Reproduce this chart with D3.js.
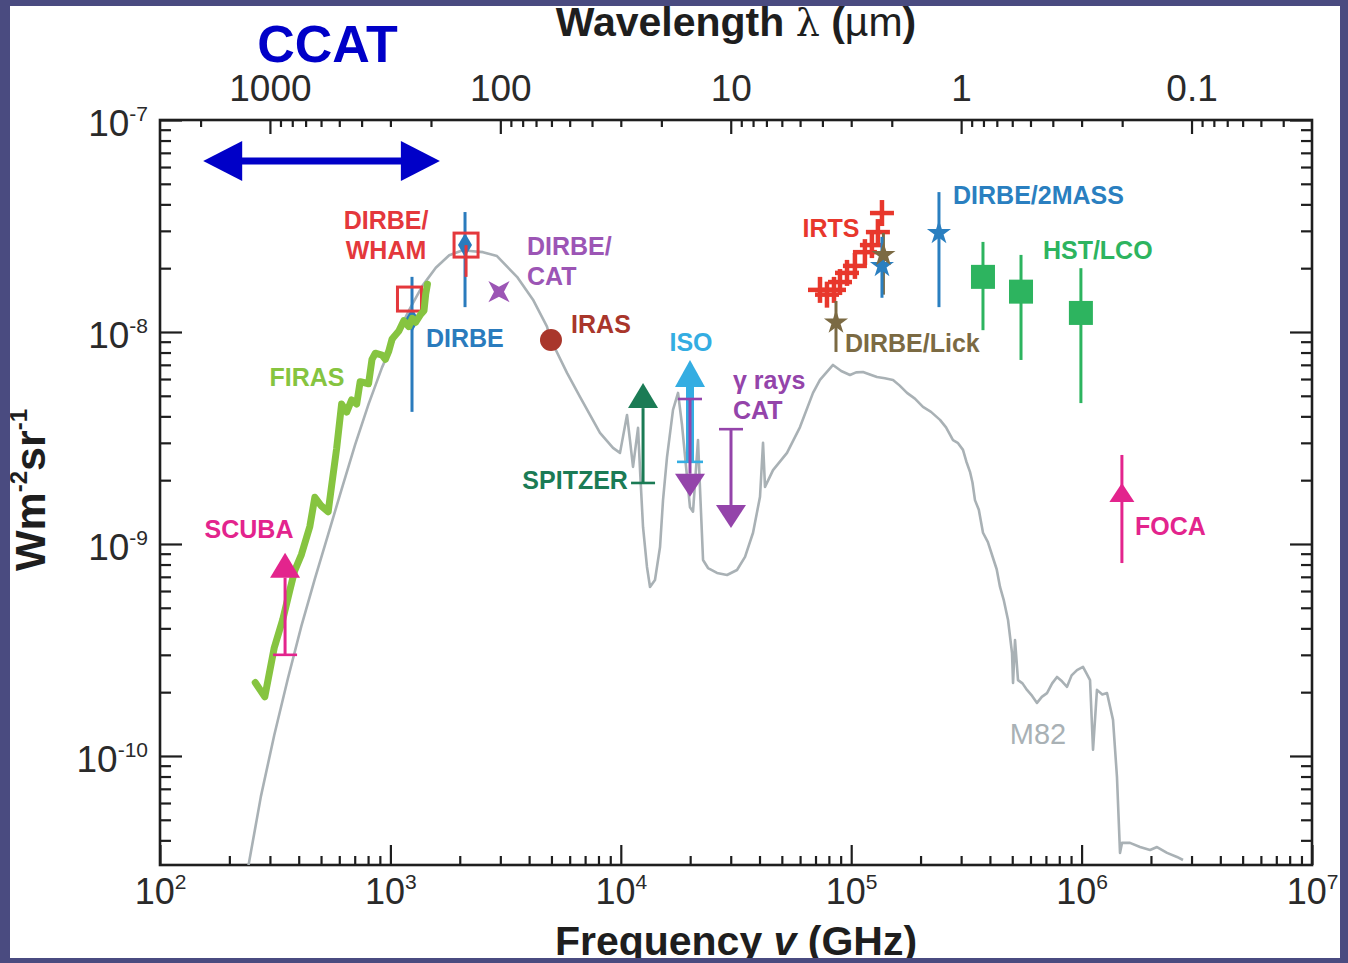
<!DOCTYPE html>
<html>
<head>
<meta charset="utf-8">
<script src="https://cdn.jsdelivr.net/npm/d3@7"></script>
<style>
  html, body { margin: 0; padding: 0; background: #4a4b80; }
  svg { display: block; }
  text { font-family: "Liberation Sans", Arial, Helvetica, sans-serif; }
</style>
</head>
<body>
<svg id="chart" width="1348" height="963"></svg>
<script>
// ---------- axis ranges and ticks ----------
const freqDomain = [1e2, 1e7];              // GHz
const intensityDomain = [3.06e-11, 1e-7];   // W m^-2 sr^-1
const C_UM_GHZ = 3e5;                       // lambda[um] = C / nu[GHz]
const freqMajorTicks = [1e2, 1e3, 1e4, 1e5, 1e6, 1e7];
const intensityMajorTicks = [1e-7, 1e-8, 1e-9, 1e-10];
const wavelengthMajorTicks = [1000, 100, 10, 1, 0.1];
const wavelengthTickLabels = ["1000", "100", "10", "1", "0.1"];

// ---------- M82 spectrum (nu GHz, intensity) ----------
const m82 = [
  [224,1.9e-11],[241,2.96e-11],[274,6.43e-11],[313,1.25e-10],[359,2.32e-10],[411,4.11e-10],
  [470,6.84e-10],[537,1.11e-9],[614,1.81e-9],[703,2.94e-9],[804,4.57e-9],[920,6.81e-9],
  [1052,9.48e-9],[1202,1.26e-8],[1377,1.65e-8],[1574,2.01e-8],[1800,2.30e-8],[2059,2.43e-8],
  [2216,2.41e-8],[2523,2.38e-8],[2902,2.28e-8],[3544,1.82e-8],[4158,1.42e-8],[4783,1.06e-8],
  [4928,9.37e-9],[5841,6.41e-9],[6652,4.94e-9],[8122,3.34e-9],[9250,2.84e-9],[9920,2.69e-9],
  [10640,4.06e-9],[10960,3.09e-9],[11300,2.31e-9],[11880,3.53e-9],[12120,2.23e-9],[12490,1.20e-9],
  [12990,7.79e-10],[13390,6.27e-10],[14070,6.76e-10],[14800,9.68e-10],[15250,1.61e-9],[15870,2.57e-9],
  [16850,4.29e-9],[17720,5.16e-9],[18440,3.64e-9],[19390,2.07e-9],[19970,1.49e-9],[20580,1.42e-9],
  [21630,3.09e-9],[22080,1.80e-9],[22750,8.40e-10],[23910,7.70e-10],[26160,7.30e-10],[28910,7.14e-10],
  [31940,7.54e-10],[34610,8.69e-10],[37490,1.13e-9],[40200,1.67e-9],[41430,3.00e-9],[42260,1.86e-9],
  [45780,2.23e-9],[52650,2.69e-9],[59950,3.56e-9],[68270,5.16e-9],[73200,5.94e-9],[83370,6.99e-9],
  [90500,6.55e-9],[98800,6.27e-9],[105000,6.45e-9],[112500,6.48e-9],[120500,6.30e-9],[129400,6.13e-9],
  [140000,6.05e-9],[151900,5.94e-9],[162000,5.60e-9],[174700,5.16e-9],[189000,4.85e-9],[204900,4.43e-9],
  [222000,4.20e-9],[242900,3.85e-9],[258000,3.55e-9],[276600,3.09e-9],[290000,3.00e-9],[305600,2.78e-9],
  [316000,2.45e-9],[327800,2.19e-9],[336000,1.95e-9],[344500,1.61e-9],[358000,1.45e-9],[373300,1.13e-9],
  [392000,1.02e-9],[412600,8.59e-10],[428000,7.60e-10],[442500,6.27e-10],[460000,5.40e-10],[479400,4.38e-10],
  [498900,3.06e-10],[504000,2.21e-10],[514100,3.52e-10],[529700,2.28e-10],[554000,2.20e-10],[579400,2.05e-10],
  [610000,1.92e-10],[640300,1.78e-10],[672000,1.90e-10],[707700,1.98e-10],[745000,2.20e-10],[782100,2.36e-10],
  [822000,2.25e-10],[864400,2.12e-10],[905000,2.40e-10],[955000,2.54e-10],[1014000,2.63e-10],[1050000,2.45e-10],
  [1088000,2.28e-10],[1121000,1.07e-10],[1166000,2.05e-10],[1230000,1.95e-10],[1289000,1.98e-10],
  [1369000,1.48e-10],[1424000,7.96e-11],[1468000,3.49e-11],[1497000,3.89e-11],[1622000,3.89e-11],[1793000,3.72e-11],
  [1982000,3.60e-11],[2125000,3.72e-11],[2349000,3.49e-11],[2595000,3.34e-11],[2755000,3.23e-11]
];

// ---------- FIRAS spectrum ----------
const firas = [
  [259,2.22e-10],[285,1.90e-10],[313,3.23e-10],[341,4.40e-10],[365,5.98e-10],[384,7.46e-10],
  [411,8.91e-10],[447,1.21e-9],[470,1.66e-9],[502,1.51e-9],[537,1.42e-9],[556,1.89e-9],
  [584,2.81e-9],[614,4.57e-9],[646,4.19e-9],[679,4.78e-9],[714,4.57e-9],[739,5.83e-9],
  [804,5.70e-9],[832,7.43e-9],[860,7.94e-9],[920,7.78e-9],[951,7.43e-9],[984,8.12e-9],
  [1017,9.27e-9],[1088,1.01e-8],[1143,1.13e-8],[1202,1.06e-8],[1244,1.16e-8],[1286,1.11e-8],
  [1353,1.21e-8],[1399,1.26e-8],[1423,1.51e-8],[1448,1.68e-8]
];

// ---------- point measurements ----------
const dirbeWham = [
  { nu: 1210, I: 1.43e-8 },
  { nu: 2130, I: 2.57e-8, lo: 1.82e-8, hi: 2.57e-8 }
];
const dirbe = [
  { nu: 1241, I: 1.14e-8, lo: 4.2e-9, hi: 1.82e-8 },
  { nu: 2108, I: 2.57e-8, lo: 1.31e-8, hi: 3.68e-8 }
];
const dirbeCat = [{ nu: 2960, I: 1.55e-8 }];
const iras = [{ nu: 4977, I: 9.17e-9 }];
const irts = [
  [73200,1.58e-8],[78500,1.50e-8],[84200,1.58e-8],[89400,1.72e-8],[95900,1.90e-8],
  [103800,2.05e-8],[114700,2.38e-8],[123000,2.57e-8],[130600,2.96e-8],[136000,3.64e-8]
];
const dirbeLick = [
  { nu: 85900, I: 1.11e-8, lo: 8.05e-9, hi: 1.40e-8 },
  { nu: 138000, I: 2.31e-8, lo: 1.50e-8, hi: 2.93e-8 }
];
const dirbe2mass = [
  { nu: 136000, I: 2.05e-8, lo: 1.45e-8, hi: 2.81e-8 },
  { nu: 240400, I: 2.93e-8, lo: 1.31e-8, hi: 4.57e-8 }
];
const hstLco = [
  { nu: 373200, I: 1.82e-8, lo: 1.02e-8, hi: 2.66e-8 },
  { nu: 545800, I: 1.55e-8, lo: 7.38e-9, hi: 2.31e-8 },
  { nu: 993000, I: 1.23e-8, lo: 4.62e-9, hi: 2.00e-8 }
];
// limits: bar = capped end, tip = arrow head
const lowerLimits = [
  { key: "scuba",   nu: 349,   bar: 3.0e-10, tip: 9.1e-10 },
  { key: "spitzer", nu: 12490, bar: 1.94e-9, tip: 5.74e-9 },
  { key: "iso",     nu: 19970, bar: 2.44e-9, tip: 7.38e-9 }
];
const gammaUpperLimits = [
  { nu: 19970, bar: 4.83e-9, tip: 1.67e-9 },
  { nu: 30080, bar: 3.48e-9, tip: 1.19e-9 }
];
const foca = [{ nu: 1.496e6, tip: 1.94e-9, lo: 8.13e-10, hi: 2.63e-9 }];
const ccatBand = [154, 1640];     // GHz
const ccatLevel = 6.4e-8;

// ---------- annotations (anchored in data space) ----------
const labels = [
  { key: "wham",    lines: ["DIRBE/", "WHAM"], nu: 957,    I: 3.06e-8, anchor: "middle" },
  { key: "dirbe",   lines: ["DIRBE"],          nu: 1427,   I: 8.50e-9, anchor: "start" },
  { key: "cat",     lines: ["DIRBE/", "CAT"],  nu: 3917,   I: 2.31e-8, anchor: "start" },
  { key: "iras",    lines: ["IRAS"],           nu: 6085,   I: 9.88e-9, anchor: "start" },
  { key: "iso",     lines: ["ISO"],            nu: 20180,  I: 8.13e-9, anchor: "middle" },
  { key: "gamma",   lines: ["γ rays", "CAT"],  nu: 30690,  I: 5.38e-9, anchor: "start" },
  { key: "spitzer", lines: ["SPITZER"],        nu: 10740,  I: 1.82e-9, anchor: "end" },
  { key: "firas",   lines: ["FIRAS"],          nu: 434.6,  I: 5.56e-9, anchor: "middle" },
  { key: "scuba",   lines: ["SCUBA"],          nu: 243.4,  I: 1.07e-9, anchor: "middle" },
  { key: "irts",    lines: ["IRTS"],           nu: 81700,  I: 2.81e-8, anchor: "middle" },
  { key: "lick",    lines: ["DIRBE/Lick"],     nu: 93950,  I: 8.05e-9, anchor: "start" },
  { key: "mass",    lines: ["DIRBE/2MASS"],    nu: 276700, I: 4.02e-8, anchor: "start" },
  { key: "hst",     lines: ["HST/LCO"],        nu: 679400, I: 2.21e-8, anchor: "start" },
  { key: "foca",    lines: ["FOCA"],           nu: 1.706e6, I: 1.10e-9, anchor: "start" },
  { key: "m82",     lines: ["M82"],            nu: 647000, I: 1.14e-10, anchor: "middle" }
];

const colors = {
  wham: "#e4383c", dirbe: "#2a7bbd", cat: "#9c55b5", iras: "#a9362b", iso: "#34ade2",
  gamma: "#9444aa", spitzer: "#1b7b55", firas: "#86c440", scuba: "#e3248d", irts: "#e8372c",
  lick: "#7b6a43", mass: "#2a7fc0", hst: "#2db45f", foca: "#e3248d", m82: "#a9b1b5",
  ccat: "#0000c8", ink: "#1e1e1e"
};

// ---------- layout ----------
const W = 1348, H = 963;
const panel = { x: 10, y: 6, w: 1330, h: 952 };
const plot = { l: 160, r: 1312, t: 120, b: 865 };

const svg = d3.select("#chart");
const defs = svg.append("defs");
defs.append("clipPath").attr("id", "panelClip").append("rect")
  .attr("x", panel.x).attr("y", panel.y).attr("width", panel.w).attr("height", panel.h);
defs.append("clipPath").attr("id", "plotClip").append("rect")
  .attr("x", plot.l).attr("y", plot.t).attr("width", plot.r - plot.l).attr("height", plot.b - plot.t);

svg.append("rect").attr("width", W).attr("height", H).attr("fill", "#4a4b80");
svg.append("rect").attr("x", panel.x).attr("y", panel.y).attr("width", panel.w).attr("height", panel.h).attr("fill", "#ffffff");
const root = svg.append("g").attr("clip-path", "url(#panelClip)");

const x = d3.scaleLog().domain(freqDomain).range([plot.l, plot.r]);
const y = d3.scaleLog().domain(intensityDomain).range([plot.b, plot.t]);
const lam = d3.scaleLog().domain([C_UM_GHZ / freqDomain[0], C_UM_GHZ / freqDomain[1]]).range([plot.l, plot.r]);

// minor tick generators
function minorLog(lo, hi) {
  const out = [];
  for (let e = Math.floor(Math.log10(lo)) - 1; e <= Math.ceil(Math.log10(hi)); e++) {
    for (let m = 2; m <= 9; m++) {
      const v = m * Math.pow(10, e);
      if (v > lo * 1.0001 && v < hi * 0.9999) out.push(v);
    }
  }
  return out;
}

function styleAxis(g) {
  g.select(".domain").remove();
  g.selectAll(".tick line").attr("stroke", colors.ink).attr("stroke-width", 2.2);
}

function powerLabel(d) {
  const t = d3.select(this);
  const e = Math.round(Math.log10(d));
  t.text(null);
  t.append("tspan").text("10");
  t.append("tspan").attr("dy", -15).attr("font-size", 21).text(String(e));
}

const axes = root.append("g");

// bottom: frequency
const gBottomMinor = axes.append("g").attr("transform", `translate(0,${plot.b})`)
  .call(d3.axisBottom(x).tickValues(minorLog(freqDomain[0], freqDomain[1])).tickSizeInner(-9).tickSizeOuter(0).tickFormat(""));
styleAxis(gBottomMinor);
const gBottom = axes.append("g").attr("transform", `translate(0,${plot.b})`)
  .call(d3.axisBottom(x).tickValues(freqMajorTicks).tickSizeInner(-20).tickSizeOuter(0).tickPadding(12));
styleAxis(gBottom);
gBottom.selectAll(".tick text").attr("font-size", 36).attr("fill", "#2a2a2a")
  .attr("font-family", "'Liberation Sans', Arial, sans-serif").each(powerLabel)
  .attr("dy", "0.74em");

// top: wavelength
const gTopMinor = axes.append("g").attr("transform", `translate(0,${plot.t})`)
  .call(d3.axisTop(lam).tickValues(minorLog(C_UM_GHZ / freqDomain[1], C_UM_GHZ / freqDomain[0])).tickSizeInner(-7).tickSizeOuter(0).tickFormat(""));
styleAxis(gTopMinor);
const gTop = axes.append("g").attr("transform", `translate(0,${plot.t})`)
  .call(d3.axisTop(lam).tickValues(wavelengthMajorTicks).tickSizeInner(-14).tickSizeOuter(0).tickPadding(19)
    .tickFormat((d, i) => wavelengthTickLabels[i]));
styleAxis(gTop);
gTop.selectAll(".tick text").attr("font-size", 37).attr("fill", "#2a2a2a")
  .attr("font-family", "'Liberation Sans', Arial, sans-serif");

// left: intensity
const gLeftMinor = axes.append("g").attr("transform", `translate(${plot.l},0)`)
  .call(d3.axisLeft(y).tickValues(minorLog(intensityDomain[0], intensityDomain[1])).tickSizeInner(-11).tickSizeOuter(0).tickFormat(""));
styleAxis(gLeftMinor);
const gLeft = axes.append("g").attr("transform", `translate(${plot.l},0)`)
  .call(d3.axisLeft(y).tickValues(intensityMajorTicks).tickSizeInner(-22).tickSizeOuter(0).tickPadding(12));
styleAxis(gLeft);
gLeft.selectAll(".tick text").attr("font-size", 37).attr("fill", "#2a2a2a")
  .attr("font-family", "'Liberation Sans', Arial, sans-serif").each(powerLabel)
  .attr("dy", "0.42em");

// right: intensity (ticks only)
const gRightMinor = axes.append("g").attr("transform", `translate(${plot.r},0)`)
  .call(d3.axisRight(y).tickValues(minorLog(intensityDomain[0], intensityDomain[1])).tickSizeInner(-11).tickSizeOuter(0).tickFormat(""));
styleAxis(gRightMinor);
const gRight = axes.append("g").attr("transform", `translate(${plot.r},0)`)
  .call(d3.axisRight(y).tickValues(intensityMajorTicks).tickSizeInner(-22).tickSizeOuter(0).tickFormat(""));
styleAxis(gRight);

// frame
axes.append("rect").attr("x", plot.l).attr("y", plot.t).attr("width", plot.r - plot.l).attr("height", plot.b - plot.t)
  .attr("fill", "none").attr("stroke", colors.ink).attr("stroke-width", 2.6);

// axis titles
const topTitle = root.append("text").attr("x", 736).attr("y", 36).attr("text-anchor", "middle")
  .attr("font-size", 41).attr("font-weight", "bold").attr("fill", colors.ink);
topTitle.append("tspan").text("Wavelength ");
topTitle.append("tspan").attr("font-weight", "normal").attr("font-family", "'DejaVu Serif', serif").attr("font-size", 38).text("λ");
topTitle.append("tspan").text(" (");
topTitle.append("tspan").attr("font-weight", "normal").text("µm");
topTitle.append("tspan").text(")");

const bottomTitle = root.append("text").attr("x", 736).attr("y", 955).attr("text-anchor", "middle")
  .attr("font-size", 41).attr("font-weight", "bold").attr("fill", colors.ink);
bottomTitle.append("tspan").text("Frequency ");
bottomTitle.append("tspan").attr("font-style", "italic").text("v");
bottomTitle.append("tspan").text(" (GHz)");

const yTitle = root.append("text").attr("transform", "translate(45,490) rotate(-90)").attr("text-anchor", "middle")
  .attr("font-size", 43).attr("font-weight", "bold").attr("fill", colors.ink);
yTitle.append("tspan").text("Wm");
yTitle.append("tspan").attr("dy", -18).attr("font-size", 24).text("-2");
yTitle.append("tspan").attr("dy", 18).text("sr");
yTitle.append("tspan").attr("dy", -18).attr("font-size", 24).text("-1");

// ---------- data layer ----------
const data = root.append("g").attr("clip-path", "url(#plotClip)");
const line = d3.line().x(d => x(d[0])).y(d => y(d[1]));

data.append("path").datum(m82).attr("d", line).attr("fill", "none")
  .attr("stroke", colors.m82).attr("stroke-width", 2.6).attr("stroke-linejoin", "round");

function vbar(g, nu, lo, hi, color, width) {
  g.append("line").attr("x1", x(nu)).attr("x2", x(nu)).attr("y1", y(lo)).attr("y2", y(hi))
    .attr("stroke", color).attr("stroke-width", width);
}

// DIRBE error bars and diamonds
dirbe.forEach(d => vbar(data, d.nu, d.lo, d.hi, colors.dirbe, 3));
data.selectAll("path.dirbe").data(dirbe).join("path").attr("class", "dirbe")
  .attr("transform", d => `translate(${x(d.nu)},${y(d.I)})`)
  .attr("d", d3.symbol(d3.symbolDiamond, 170)).attr("fill", colors.dirbe);

// DIRBE/WHAM open squares
dirbeWham.filter(d => d.lo).forEach(d => vbar(data, d.nu, d.lo, d.hi, colors.wham, 3));
data.selectAll("rect.wham").data(dirbeWham).join("rect").attr("class", "wham")
  .attr("x", d => x(d.nu) - 12).attr("y", d => y(d.I) - 12).attr("width", 24).attr("height", 24)
  .attr("fill", "none").attr("stroke", colors.wham).attr("stroke-width", 3);

// FIRAS
data.append("path").datum(firas).attr("d", line).attr("fill", "none")
  .attr("stroke", colors.firas).attr("stroke-width", 7).attr("stroke-linejoin", "round").attr("stroke-linecap", "round");

// DIRBE/CAT four-pointed star
function fourStar(R, r) {
  const p = d3.path();
  for (let i = 0; i < 8; i++) {
    const a = i * Math.PI / 4 - Math.PI / 4;
    const rad = i % 2 === 0 ? R : r;
    const px = Math.cos(a) * rad, py = Math.sin(a) * rad;
    if (i === 0) p.moveTo(px, py); else p.lineTo(px, py);
  }
  p.closePath();
  return p.toString();
}
data.selectAll("path.cat").data(dirbeCat).join("path").attr("class", "cat")
  .attr("transform", d => `translate(${x(d.nu)},${y(d.I)})`)
  .attr("d", fourStar(15, 5)).attr("fill", colors.cat);

// IRAS
data.selectAll("circle.iras").data(iras).join("circle").attr("class", "iras")
  .attr("cx", d => x(d.nu)).attr("cy", d => y(d.I)).attr("r", 11).attr("fill", colors.iras);

// limit arrows
function limitArrow(g, d, color, shaft, head, halfW, cap) {
  const px = x(d.nu), yb = y(d.bar), yt = y(d.tip);
  const dir = yt < yb ? 1 : -1;           // 1 = pointing up
  const base = yt + dir * head;
  g.append("line").attr("x1", px).attr("x2", px).attr("y1", yb).attr("y2", base)
    .attr("stroke", color).attr("stroke-width", shaft);
  g.append("line").attr("x1", px - cap).attr("x2", px + cap).attr("y1", yb).attr("y2", yb)
    .attr("stroke", color).attr("stroke-width", 2.6);
  g.append("path").attr("d", `M${px},${yt}L${px - halfW},${base}L${px + halfW},${base}Z`).attr("fill", color);
}
lowerLimits.forEach(d => {
  if (d.key === "iso") limitArrow(data, d, colors.iso, 8, 27, 15, 13);
  else limitArrow(data, d, colors[d.key], 3, 25, 15, 12);
});
gammaUpperLimits.forEach(d => limitArrow(data, d, colors.gamma, 3, 23, 15, 12));

// IRTS crosses
const irtsG = data.append("g").attr("stroke", colors.irts).attr("stroke-width", 4.5);
irts.forEach(d => {
  const px = x(d[0]), py = y(d[1]);
  irtsG.append("line").attr("x1", px - 12).attr("x2", px + 12).attr("y1", py).attr("y2", py);
  irtsG.append("line").attr("x1", px).attr("x2", px).attr("y1", py - 13).attr("y2", py + 13);
});

// DIRBE/Lick and DIRBE/2MASS stars
dirbeLick.forEach(d => vbar(data, d.nu, d.lo, d.hi, colors.lick, 3));
dirbe2mass.forEach(d => vbar(data, d.nu, d.lo, d.hi, colors.mass, 3));
data.selectAll("path.mass").data(dirbe2mass).join("path").attr("class", "mass")
  .attr("transform", d => `translate(${x(d.nu)},${y(d.I)})`)
  .attr("d", d3.symbol(d3.symbolStar, 180)).attr("fill", colors.mass);
data.selectAll("path.lick").data(dirbeLick).join("path").attr("class", "lick")
  .attr("transform", d => `translate(${x(d.nu)},${y(d.I)})`)
  .attr("d", d3.symbol(d3.symbolStar, 180)).attr("fill", colors.lick);

// HST/LCO
hstLco.forEach(d => vbar(data, d.nu, d.lo, d.hi, colors.hst, 3));
data.selectAll("rect.hst").data(hstLco).join("rect").attr("class", "hst")
  .attr("x", d => x(d.nu) - 12).attr("y", d => y(d.I) - 12).attr("width", 24).attr("height", 24)
  .attr("fill", colors.hst);

// FOCA
foca.forEach(d => {
  vbar(data, d.nu, d.lo, d.hi, colors.foca, 3);
  const px = x(d.nu), yt = y(d.tip);
  data.append("path").attr("d", `M${px},${yt}L${px - 12.5},${yt + 19}L${px + 12.5},${yt + 19}Z`).attr("fill", colors.foca);
});

// ---------- labels ----------
const labelG = root.append("g").attr("font-weight", "bold").attr("font-size", 25);
labels.forEach(l => {
  const t = labelG.append("text").attr("x", x(l.nu)).attr("y", y(l.I))
    .attr("text-anchor", l.anchor).attr("fill", colors[l.key]);
  if (l.key === "m82") t.attr("font-weight", "normal").attr("font-size", 29);
  l.lines.forEach((s, i) => {
    t.append("tspan").attr("x", x(l.nu)).attr("dy", i === 0 ? 0 : 30).text(s);
  });
});

// ---------- CCAT band ----------
const ccatG = root.append("g");
const cx0 = x(ccatBand[0]), cx1 = x(ccatBand[1]), cy = y(ccatLevel);
ccatG.append("line").attr("x1", cx0 + 30).attr("x2", cx1 - 30).attr("y1", cy).attr("y2", cy)
  .attr("stroke", colors.ccat).attr("stroke-width", 7);
ccatG.append("path").attr("d", `M${cx0},${cy}L${cx0 + 39},${cy - 20}L${cx0 + 39},${cy + 20}Z`).attr("fill", colors.ccat);
ccatG.append("path").attr("d", `M${cx1},${cy}L${cx1 - 39},${cy - 20}L${cx1 - 39},${cy + 20}Z`).attr("fill", colors.ccat);
ccatG.append("text").attr("x", (cx0 + cx1) / 2 + 6).attr("y", cy - 99).attr("text-anchor", "middle")
  .attr("font-size", 52).attr("font-weight", "bold").attr("fill", colors.ccat).text("CCAT");
</script>
</body>
</html>
